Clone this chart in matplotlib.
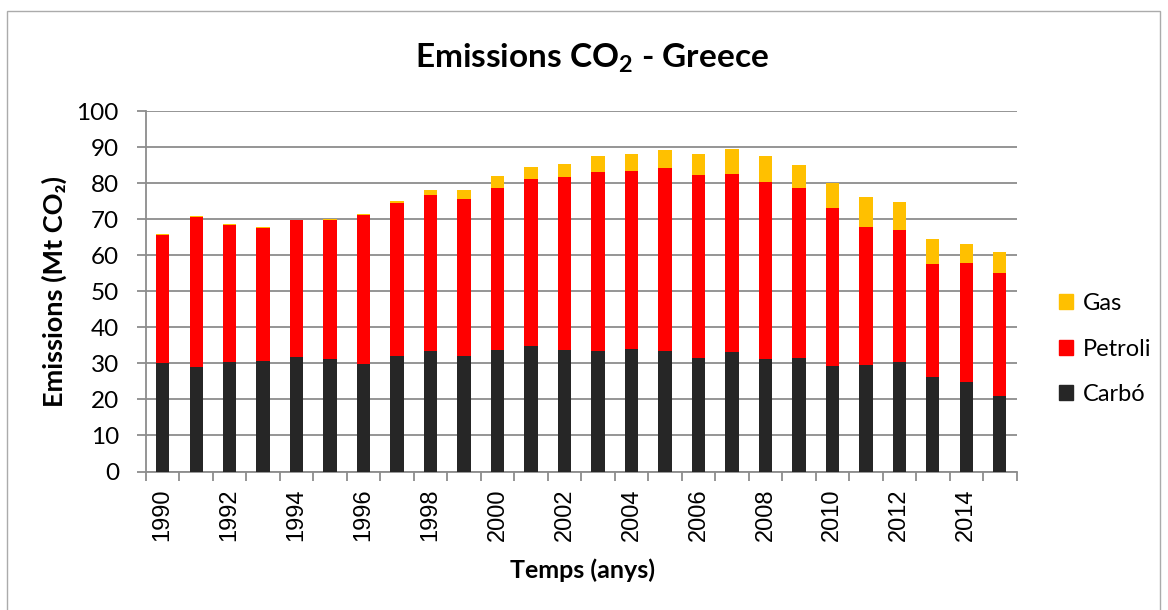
import matplotlib
matplotlib.use("Agg")
import matplotlib.pyplot as plt
from matplotlib.patches import Rectangle, Patch
import numpy as np

plt.rcParams['font.family'] = ['Lato', 'DejaVu Sans']
plt.rcParams['mathtext.fontset'] = 'custom'
plt.rcParams['mathtext.rm'] = 'Lato'
plt.rcParams['mathtext.bf'] = 'Lato:bold'

years = list(range(1990, 2016))
carbo = [30.1, 28.9, 30.5, 30.6, 31.7, 31.3, 29.7, 32.0, 33.4, 32.0, 33.8, 34.8, 33.6,
         33.3, 34.1, 33.5, 31.4, 33.1, 31.1, 31.4, 29.4, 29.5, 30.3, 26.1, 24.9, 20.9]
petroli = [35.5, 41.8, 37.8, 37.0, 38.1, 38.5, 41.5, 42.4, 43.2, 43.5, 44.8, 46.3, 48.0,
           49.8, 49.2, 50.6, 50.8, 49.3, 49.1, 47.2, 43.7, 38.2, 36.7, 31.5, 32.8, 34.3]
gas = [0.4, 0.3, 0.3, 0.1, 0.1, 0.2, 0.2, 0.5, 1.6, 2.6, 3.5, 3.5, 3.8,
       4.3, 4.8, 5.1, 5.9, 7.0, 7.3, 6.3, 6.9, 8.5, 7.8, 7.0, 5.3, 5.7]

c_carbo = '#262626'
c_petroli = '#FF0000'
c_gas = '#FFC000'
grid_c = '#8C8C8C'

W, H = 1168, 610
fig = plt.figure(figsize=(W / 100, H / 100), dpi=100)

# chart frame (open at the bottom edge of the canvas)
fig.patches.append(Rectangle((7 / W, -0.01), 1153 / W, 1 - 11 / H + 0.01,
                             transform=fig.transFigure, fill=False,
                             edgecolor='#ABABAB', linewidth=1.0))

ax = fig.add_axes([146 / W, 1 - 471.5 / H, 870.5 / W, 360.5 / H])
x = np.arange(len(years))
w = 0.40
bottom2 = np.array(carbo) + np.array(petroli)
ax.bar(x, carbo, w, color=c_carbo, zorder=3)
ax.bar(x, petroli, w, bottom=carbo, color=c_petroli, zorder=3)
ax.bar(x, gas, w, bottom=bottom2, color=c_gas, zorder=3)

ax.set_xlim(-0.5, len(years) - 0.5)
ax.set_ylim(0, 100)
ax.set_yticks(range(0, 101, 10))
ax.yaxis.grid(True, color=grid_c, linewidth=1.3, zorder=0)
ax.set_axisbelow(True)
for s in ['top', 'right']:
    ax.spines[s].set_visible(False)
for s in ['left', 'bottom']:
    ax.spines[s].set_color(grid_c)
    ax.spines[s].set_linewidth(1.3)

even = [i for i, y in enumerate(years) if y % 2 == 0]
ax.set_xticks(even)
ax.set_xticklabels([str(years[i]) for i in even], rotation=90,
                   fontfamily='Liberation Sans', fontsize=17)
ax.tick_params(axis='x', which='major', length=0, pad=12.5)
ax.set_xticks(np.arange(-0.5, len(years), 1.0), minor=True)
ax.tick_params(axis='x', which='minor', length=6.5, color=grid_c, width=1.3)
ax.tick_params(axis='y', length=6.5, color=grid_c, width=1.3, labelsize=17.5, pad=13)

ax.set_ylabel('Emissions (Mt CO\u2082)', fontsize=19.5, fontweight='bold', labelpad=7,
              fontfamily=['Lato', 'DejaVu Sans'])
fig.text(582 / W, 1 - 570 / H, 'Temps (anys)', ha='center', va='center',
         fontsize=18, fontweight='bold')
fig.text(592 / W, 1 - 58 / H, r'Emissions CO$_\mathbf{2}$ - Greece', ha='center', va='center',
         fontsize=24, fontweight='bold')

handles = [Patch(color=c_gas, label='Gas'), Patch(color=c_petroli, label='Petroli'),
           Patch(color=c_carbo, label='Carbó')]
fig.legend(handles=handles, loc='center left', bbox_to_anchor=(1059 / W, 1 - 349 / H),
           frameon=False, fontsize=17, handlelength=0.6, handleheight=0.6,
           handletextpad=0.4, labelspacing=1.05, borderpad=0, borderaxespad=0)

fig.savefig('out.png', dpi=100)
